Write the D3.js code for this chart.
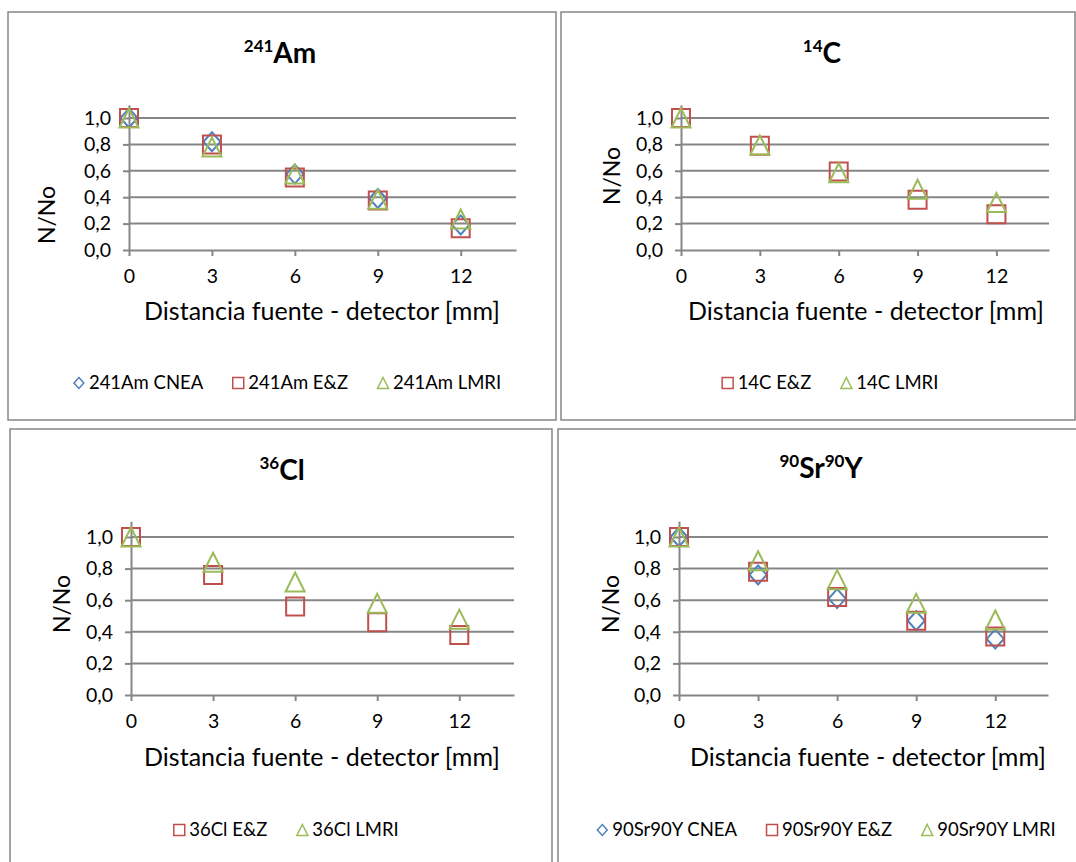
<!DOCTYPE html>
<html>
<head>
<meta charset="utf-8">
<script src="https://cdn.jsdelivr.net/npm/d3@7/dist/d3.min.js"></script>
<style>
body { margin: 0; background: #fff; }
svg { display: block; }
text { font-family: Lato, "Open Sans", sans-serif; fill: #000; }
</style>
</head>
<body>
<div id="chart"></div>
<script>
// distances (mm) shared by every series
var distances = [0, 3, 6, 9, 12];
var xTicks = [0, 3, 6, 9, 12];
var yTicks = [0, 0.2, 0.4, 0.6, 0.8, 1.0];

// 241Am
var am_CNEA = [1.0, 0.82, 0.575, 0.39, 0.19];
var am_EZ   = [1.0, 0.80, 0.55, 0.375, 0.165];
var am_LMRI = [1.0, 0.78, 0.575, 0.385, 0.235];
// 14C
var c_EZ    = [1.0, 0.79, 0.595, 0.38, 0.27];
var c_LMRI  = [1.0, 0.795, 0.585, 0.46, 0.36];
// 36Cl
var cl_EZ   = [1.0, 0.76, 0.56, 0.46, 0.38];
var cl_LMRI = [1.0, 0.84, 0.715, 0.58, 0.48];
// 90Sr90Y
var sr_CNEA = [1.0, 0.76, 0.61, 0.47, 0.355];
var sr_EZ   = [1.0, 0.78, 0.62, 0.47, 0.37];
var sr_LMRI = [1.0, 0.85, 0.73, 0.58, 0.475];

var xLabel = "Distancia fuente - detector [mm]";
var yLabel = "N/No";

var colors = { diamond: "#4F81BD", square: "#C0504D", triangle: "#9BBB59" };
var gridColour = "#868686";

var panels = [
	{ box: [8, 12, 548, 408], plot: [129, 516, 250, 118], yLab: [55, 215], xLab: [322, 320],
	  title: [["241", true], ["Am", false]], titleAt: [280, 63], legendAt: [287, 389],
	  series: [
		{ name: "241Am CNEA", shape: "diamond", values: am_CNEA },
		{ name: "241Am E&Z", shape: "square", values: am_EZ },
		{ name: "241Am LMRI", shape: "triangle", values: am_LMRI } ] },
	{ box: [561, 12, 514, 408], plot: [681, 1049, 250, 118], yLab: [620, 176], xLab: [866, 320],
	  title: [["14", true], ["C", false]], titleAt: [822, 63], legendAt: [830, 389],
	  series: [
		{ name: "14C E&Z", shape: "square", values: c_EZ },
		{ name: "14C LMRI", shape: "triangle", values: c_LMRI } ] },
	{ box: [10, 429, 542, 440], plot: [131, 514, 695, 537], yLab: [70, 604], xLab: [322, 766],
	  title: [["36", true], ["Cl", false]], titleAt: [282, 480], legendAt: [286, 836],
	  series: [
		{ name: "36Cl E&Z", shape: "square", values: cl_EZ },
		{ name: "36Cl LMRI", shape: "triangle", values: cl_LMRI } ] },
	{ box: [558, 429, 520, 440], plot: [679, 1048, 695, 537], yLab: [619, 604], xLab: [868, 766],
	  title: [["90", true], ["Sr", false], ["90", true], ["Y", false]], titleAt: [821, 478], legendAt: [826, 836],
	  series: [
		{ name: "90Sr90Y CNEA", shape: "diamond", values: sr_CNEA },
		{ name: "90Sr90Y E&Z", shape: "square", values: sr_EZ },
		{ name: "90Sr90Y LMRI", shape: "triangle", values: sr_LMRI } ] }
];

var svg = d3.select("#chart").append("svg")
	.attr("width", 1076)
	.attr("height", 862);

// marker paths, s = half size
function markerPath(shape, s) {
	if (shape == "square") return "M" + (-s) + "," + (-s) + "H" + s + "V" + s + "H" + (-s) + "Z";
	if (shape == "diamond") return "M0," + (-s) + "L" + (s * 0.9) + ",0L0," + s + "L" + (-s * 0.9) + ",0Z";
	return "M0," + (-s) + "L" + s + "," + s + "H" + (-s) + "Z";
}

var fmt = d3.format(".1f");

panels.forEach(function(p) {
	var g = svg.append("g");

	g.append("rect")
	.attr("x", p.box[0]).attr("y", p.box[1])
	.attr("width", p.box[2]).attr("height", p.box[3])
	.attr("fill", "none")
	.attr("stroke", gridColour)
	.attr("stroke-width", 1.5);

	// 1.0 sits at plot[3]; the axis line runs up to 1.1
	var y = d3.scaleLinear().domain([0, 1]).range([p.plot[2], p.plot[3]]);
	var x = d3.scaleLinear().domain([0, 14]).range([p.plot[0], p.plot[1]]);

	// gridlines
	g.append("g").selectAll("line")
	.data(yTicks.filter(function(d) { return d > 0; }))
	.enter().append("line")
	.attr("x1", x(0)).attr("x2", x(14))
	.attr("y1", function(d) { return y(d); })
	.attr("y2", function(d) { return y(d); })
	.attr("stroke", gridColour)
	.attr("stroke-width", 2);

	var yAxis = g.append("g")
	.attr("transform", "translate(" + x(0) + ",0)")
	.call(d3.axisLeft(y.copy().domain([0, 1.1]).range([p.plot[2], y(1.1)]))
		.tickValues(yTicks).tickSize(6).tickSizeOuter(0).tickPadding(12)
		.tickFormat(function(d) { return fmt(d).replace(".", ","); }));

	var xAxis = g.append("g")
	.attr("transform", "translate(0," + y(0) + ")")
	.call(d3.axisBottom(x).tickValues(xTicks).tickSize(6).tickSizeOuter(0).tickPadding(13));

	[yAxis, xAxis].forEach(function(a) {
		a.select(".domain").attr("stroke", gridColour).attr("stroke-width", 2);
		a.selectAll(".tick line").attr("stroke", gridColour).attr("stroke-width", 2);
		a.selectAll(".tick text").attr("font-size", 19.5).attr("fill", "#000")
		.style("font-family", "Lato, 'Open Sans', sans-serif");
	});

	// title with superscripts
	var t = g.append("text")
	.attr("x", p.titleAt[0]).attr("y", p.titleAt[1])
	.attr("text-anchor", "middle")
	.attr("font-weight", "bold");
	p.title.forEach(function(part) {
		t.append("tspan")
		.attr("font-size", part[1] ? 17 : 28)
		.attr("baseline-shift", part[1] ? "11" : "0")
		.text(part[0]);
	});

	// axis titles
	g.append("text")
	.attr("transform", "translate(" + p.yLab[0] + "," + p.yLab[1] + ") rotate(-90)")
	.attr("text-anchor", "middle")
	.attr("font-size", 23)
	.text(yLabel);

	g.append("text")
	.attr("x", p.xLab[0]).attr("y", p.xLab[1])
	.attr("text-anchor", "middle")
	.attr("font-size", 25)
	.text(xLabel);

	// markers
	p.series.forEach(function(s) {
		g.append("g").selectAll("path")
		.data(s.values)
		.enter().append("path")
		.attr("transform", function(d, i) { return "translate(" + x(distances[i]) + "," + y(d) + ")"; })
		.attr("d", markerPath(s.shape, s.shape == "square" ? 9 : 9.5))
		.attr("fill", "none")
		.attr("stroke", colors[s.shape])
		.attr("stroke-width", 2);
	});

	// legend, centred on legendAt
	var leg = g.append("g");
	var cx = 0;
	p.series.forEach(function(s, i) {
		var item = leg.append("g").attr("transform", "translate(" + cx + ",0)");
		item.append("path")
		.attr("transform", "translate(6,-6)")
		.attr("d", markerPath(s.shape, 5.5))
		.attr("fill", "none")
		.attr("stroke", colors[s.shape])
		.attr("stroke-width", 1.5);
		var txt = item.append("text")
		.attr("x", 16)
		.attr("font-size", 18.5)
		.text(s.name);
		cx += 16 + txt.node().getComputedTextLength() + 29;
	});
	var w = cx - 29;
	leg.attr("transform", "translate(" + (p.legendAt[0] - w / 2) + "," + p.legendAt[1] + ")");
});
</script>
</body>
</html>
